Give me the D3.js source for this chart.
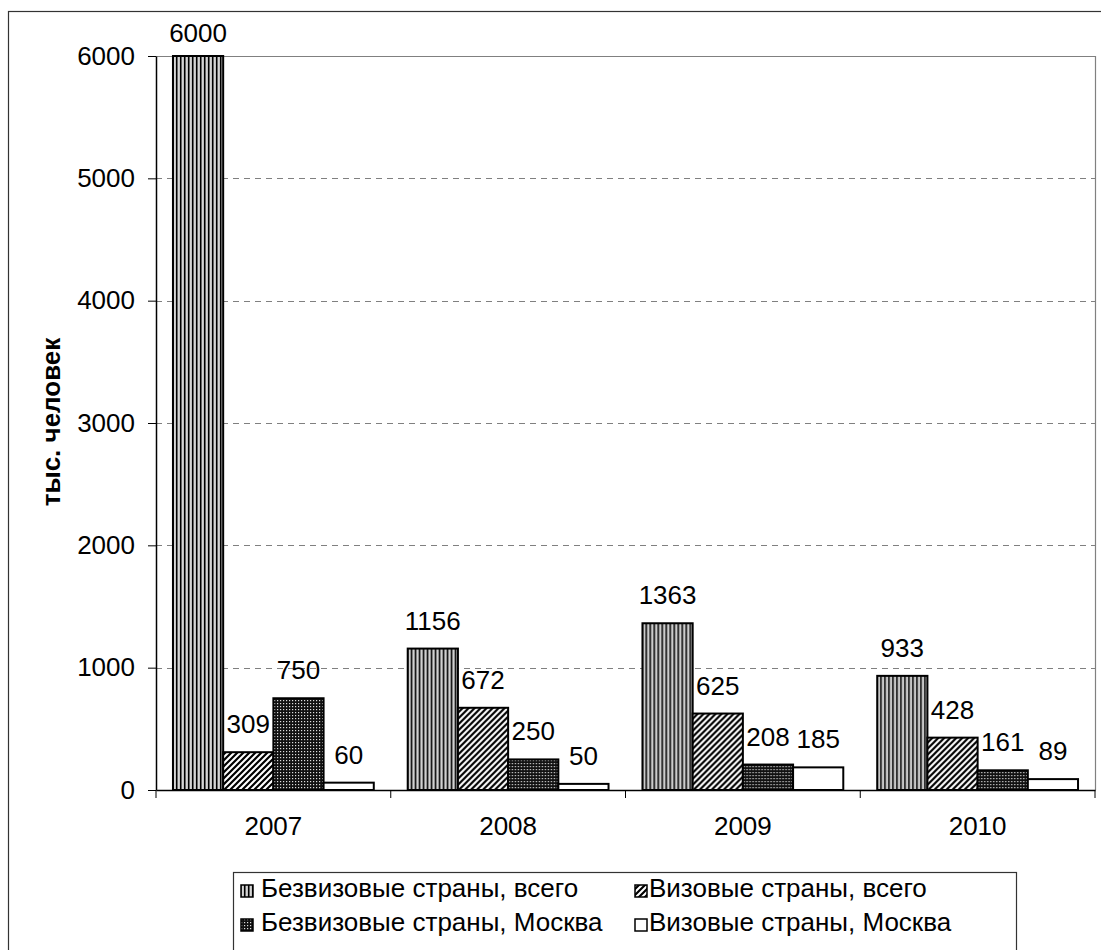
<!DOCTYPE html>
<html><head><meta charset="utf-8">
<script src="https://cdn.jsdelivr.net/npm/d3@7"></script>
<style>body{margin:0;background:#fff;} text{font-family:"Liberation Sans",Arial,sans-serif;}</style>
</head><body>
<svg id="c" width="1101" height="950"></svg>
<script>
const years = ["2007","2008","2009","2010"];
const seriesNames = ["Безвизовые страны, всего","Визовые страны, всего","Безвизовые страны, Москва","Визовые страны, Москва"];
const bezvizTotal = [6000,1156,1363,933];
const vizTotal = [309,672,625,428];
const bezvizMoscow = [750,250,208,161];
const vizMoscow = [60,50,185,89];
const yTicks = [0,1000,2000,3000,4000,5000,6000];
const yTitle = "тыс. человек";

(function(){
const FONT = "Liberation Sans, Arial, sans-serif";
const FS = 26;
const seriesValues = [bezvizTotal, vizTotal, bezvizMoscow, vizMoscow];
const svg = d3.select("#c");
const defs = svg.append("defs");

// patterns
const p0 = defs.append("pattern").attr("id","pat0").attr("patternUnits","userSpaceOnUse").attr("width",4).attr("height",4);
p0.append("rect").attr("width",4).attr("height",4).attr("fill","#fff");
p0.append("rect").attr("x",0).attr("width",1.6).attr("height",4).attr("fill","#000");
p0.append("rect").attr("x",2.6).attr("width",1).attr("height",4).attr("fill","#999");
const p1 = defs.append("pattern").attr("id","pat1").attr("patternUnits","userSpaceOnUse").attr("width",6).attr("height",6);
p1.append("rect").attr("width",6).attr("height",6).attr("fill","#fff");
p1.append("path").attr("d","M-1,7 L7,-1 M-4,4 L4,-4 M2,10 L10,2").attr("stroke","#000").attr("stroke-width",2.2);
const p2 = defs.append("pattern").attr("id","pat2").attr("patternUnits","userSpaceOnUse").attr("width",3).attr("height",3);
p2.append("rect").attr("width",3).attr("height",3).attr("fill","#111");
p2.append("rect").attr("x",1).attr("y",1).attr("width",1.2).attr("height",1.2).attr("fill","#ddd");
const fills = ["url(#pat0)","url(#pat1)","url(#pat2)","#fff"];

// outer frame
svg.append("rect").attr("x",8.5).attr("y",11.5).attr("width",1110).attr("height",960)
  .attr("fill","none").attr("stroke","#333").attr("stroke-width",1.2);

const pL = 156, pR = 1095, pT = 56, pB = 790;
const x = d3.scaleBand().domain(years).range([pL,pR]).paddingInner(0).paddingOuter(0);
const inner = d3.scaleBand().domain(d3.range(4)).range([0,x.bandwidth()]).paddingOuter(0.338).paddingInner(0);
const y = d3.scaleLinear().domain([0,6000]).range([pB,pT]);

// gridlines
svg.append("g").selectAll("line").data(yTicks.filter(t=>t>0 && t<6000)).join("line")
  .attr("x1",pL).attr("x2",pR).attr("y1",d=>Math.round(y(d))+0.5).attr("y2",d=>Math.round(y(d))+0.5)
  .attr("stroke","#808080").attr("stroke-dasharray","6,5");
// plot border top & right
svg.append("path").attr("d",`M${pL},${pT+0.5}H${pR+0.5}V${pB}`).attr("fill","none").attr("stroke","#808080").attr("stroke-width",1.2);

// bars
const groups = svg.append("g").selectAll("g").data(years).join("g").attr("transform",d=>`translate(${x(d)},0)`);
groups.each(function(yr,yi){
  const g = d3.select(this);
  seriesValues.forEach((vals,si)=>{
    const v = vals[yi];
    g.append("rect").attr("x",inner(si)).attr("width",inner.bandwidth())
      .attr("y",y(v)).attr("height",pB-y(v))
      .attr("fill",fills[si]).attr("stroke","#000").attr("stroke-width",2);
    g.append("text").attr("x",inner(si)+inner.bandwidth()/2)
      .attr("y",Math.max(y(v)-19,42)).attr("text-anchor","middle")
      .style("font-size",FS+"px").style("font-family",FONT).attr("fill","#000").text(v);
  });
});

// y axis
const yAxis = svg.append("g").attr("transform",`translate(${pL},0)`)
  .call(d3.axisLeft(y).tickValues(yTicks).tickFormat(d3.format("d")).tickSize(8).tickPadding(13).tickSizeOuter(0));
yAxis.select(".domain").attr("stroke","#000").attr("stroke-width",1.5);
yAxis.selectAll(".tick line").attr("stroke","#000");
yAxis.selectAll(".tick text").style("font-size",FS+"px").attr("fill","#000").style("font-family",FONT);

// x axis
const xAxis = svg.append("g").attr("transform",`translate(0,${pB})`)
  .call(d3.axisBottom(x).tickSize(0).tickPadding(27));
xAxis.select(".domain").attr("stroke","#000").attr("stroke-width",1.5);
xAxis.selectAll(".tick text").style("font-size",FS+"px").attr("fill","#000").style("font-family",FONT);
svg.append("g").selectAll("line").data(years.concat(["end"])).join("line")
  .attr("x1",(d,i)=> i<years.length ? x(d) : pR).attr("x2",(d,i)=> i<years.length ? x(d) : pR)
  .attr("y1",pB).attr("y2",pB+8).attr("stroke","#000");

// y title
svg.append("text").attr("transform","translate(60,422) rotate(-90)").attr("text-anchor","middle")
  .style("font-size","26px").attr("font-weight","bold").style("font-family",FONT).attr("fill","#000").text(yTitle);

// legend
const lg = svg.append("g");
lg.append("rect").attr("x",233.5).attr("y",872.5).attr("width",783).attr("height",120).attr("fill","#fff").attr("stroke","#333").attr("stroke-width",1.2);
const lpos = [[241,891,261],[635,891,649],[241,925,261],[635,925,649]];
seriesNames.forEach((n,i)=>{
  const [lx,ly,tx] = lpos[i];
  lg.append("rect").attr("x",lx).attr("y",ly-6).attr("width",12).attr("height",12)
    .attr("fill",fills[i]).attr("stroke","#000").attr("stroke-width",1.5);
  lg.append("text").attr("x",tx).attr("y",ly+6).style("font-size",FS+"px").style("font-family",FONT).attr("fill","#000").text(n);
});
})();
</script>
</body></html>
